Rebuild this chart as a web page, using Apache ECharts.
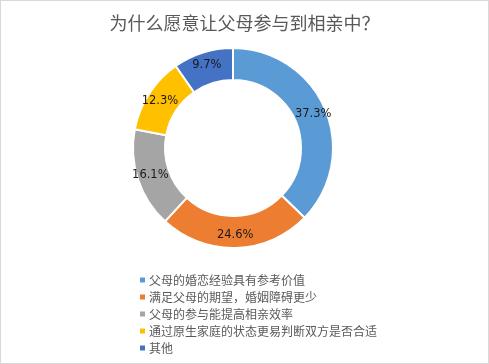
<!DOCTYPE html>
<html><head><meta charset="utf-8">
<script src="https://cdn.jsdelivr.net/npm/echarts@6/dist/echarts.min.js"></script>
<style>html,body{margin:0;padding:0;background:#fff}#c{width:487px;height:362px;border:1px solid #d9d9d9}</style>
</head><body><div id="c"></div>
<script>
const categories = ["父母的婚恋经验具有参考价值","满足父母的期望，婚姻障碍更少","父母的参与能提高相亲效率","通过原生家庭的状态更易判断双方是否合适","其他"];
const values = [37.3, 24.6, 16.1, 12.3, 9.7];
const colors = ["#5B9BD5","#ED7D31","#A5A5A5","#FFC000","#4472C4"];
const chart = echarts.init(document.getElementById('c'));
chart.setOption({
  animation:false,
  title:{text:"为什么愿意让父母参与到相亲中？",left:'center',top:8,textStyle:{fontFamily:"Noto Sans CJK SC",fontSize:18,fontWeight:'normal',color:'#595959'}},
  legend:{orient:'vertical',left:132,top:268,itemWidth:7,itemHeight:7,itemGap:5,icon:'rect',
    textStyle:{fontFamily:"Noto Sans CJK SC",fontSize:12,color:'#595959',padding:[0,0,0,-2]},
    data:categories},
  series:[{type:'pie',center:[232,147],radius:[68,100],startAngle:90,clockwise:true,
    itemStyle:{borderColor:'#fff',borderWidth:2},
    label:{position:'inside',formatter:p=>p.value.toFixed(1)+'%',fontFamily:"DejaVu Sans",fontSize:11.5,color:'#1a1a1a'},
    labelLine:{show:false},
    data:categories.map((n,i)=>({name:n,value:values[i],itemStyle:{color:colors[i]}}))}]
});
</script></body></html>
